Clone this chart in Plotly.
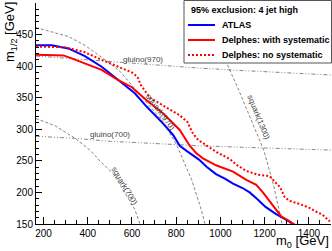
import plotly.graph_objects as go

# ---- data ----
atlas_m0 = [166, 237, 312, 387, 463, 538, 613, 666, 741, 786, 816, 850, 880, 903, 940, 980, 1020, 1057, 1100, 1132, 1165, 1204, 1250, 1282, 1310, 1335]
atlas_m12 = [433, 433, 428, 416, 399, 378, 357, 336, 309, 291, 274, 265, 258, 252, 240, 229, 222, 214, 207, 200, 190, 177, 166, 160, 154, 148]

sys_m0 = [166, 290, 330, 387, 463, 538, 598, 666, 741, 816, 861, 891, 921, 980, 1057, 1117, 1162, 1192, 1237, 1275, 1313, 1340]
sys_m12 = [418, 417, 412, 404, 394, 378, 367, 346, 325, 299, 274, 262, 254, 243, 233, 220, 212, 200, 180, 162, 154, 148]

nosys_m0 = [166, 290, 330, 387, 463, 538, 600, 625, 640, 681, 741, 816, 850, 876, 900, 936, 982, 1042, 1072, 1117, 1170, 1222, 1250, 1270, 1290, 1310, 1355, 1400, 1430, 1460, 1495]
nosys_m12 = [431, 430, 427, 422, 410, 399, 390, 383, 370, 350, 337, 322, 312, 293, 283, 275, 264, 253, 244, 234, 228, 226, 216, 208, 193, 187, 182, 176, 170, 165, 154]

gl970_m0 = [166, 350, 500, 700, 900, 1100, 1300, 1500]
gl970_m12 = [416, 411, 407, 402, 397, 393, 389, 386]

gl700_m0 = [166, 342, 500, 681, 900, 1100, 1300, 1500]
gl700_m12 = [289, 285.6, 281, 277.7, 274, 271.5, 269, 267]

sq970_m0 = [166, 207, 312, 387, 463, 545, 635, 700, 741, 801, 831, 870, 914, 933, 945]
sq970_m12 = [461, 457, 447, 433, 414, 392, 355, 330, 312, 276, 251, 220, 172, 148, 130]

sq700_m0 = [166, 250, 342, 410, 463, 515, 553, 575, 613, 635, 642]
sq700_m12 = [317, 306, 286, 267, 247, 230, 208, 195, 173, 151, 140]

sq1300_m0 = [990, 1028, 1078, 1128, 1177, 1196, 1240, 1277, 1285]
sq1300_m12 = [430, 405, 366, 324, 283, 267, 212, 151, 140]

legend_title = "95% exclusion: 4 jet high"
legend_names = ["ATLAS", "Delphes: with systematic", "Delphes: no systematic"]

# ---- figure ----
W, H = 332, 251
ML, MR, MT, MB = 36, 1, 3, 27
PW, PH = W - ML - MR, H - MT - MB

def PX(px):
    return (px - ML) / PW

def PY(py):
    return (MT + PH - py) / PH

FONT = "Liberation Sans, Arial, sans-serif"
GRAY = "#666666"

fig = go.Figure()

gray_lines = [
    (gl970_m0, gl970_m12, "dashdot"),
    (gl700_m0, gl700_m12, "dashdot"),
    (sq970_m0, sq970_m12, "dash"),
    (sq700_m0, sq700_m12, "dash"),
    (sq1300_m0, sq1300_m12, "dash"),
]
for xs, ys, dash in gray_lines:
    fig.add_trace(go.Scatter(x=xs, y=ys, mode="lines", showlegend=False, hoverinfo="skip",
                             line=dict(color=GRAY, width=0.8, dash="4px,2px,1px,2px,1px,2px" if dash == "dashdot" else "3px,2px")))

fig.add_trace(go.Scatter(x=atlas_m0, y=atlas_m12, mode="lines", showlegend=False,
                         line=dict(color="#0000ff", width=2)))
fig.add_trace(go.Scatter(x=sys_m0, y=sys_m12, mode="lines", showlegend=False,
                         line=dict(color="#ff0000", width=2)))
fig.add_trace(go.Scatter(x=nosys_m0, y=nosys_m12, mode="lines", showlegend=False,
                         line=dict(color="#ff0000", width=2, dash="2px,2px")))

# gray curve labels
lab_font = dict(family=FONT, size=8, color="#444444")
for txt, x, y, ang in [("gluino(970)", 651, 411, 0), ("gluino(700)", 500, 291, 0),
                       ("squark(700)", 568, 210, 59), ("squark(970)", 730, 327, 53),
                       ("squark(1300)", 1173, 319, 68)]:
    fig.add_annotation(x=x, y=y, xref="x", yref="y", text=txt, showarrow=False,
                       textangle=ang, font=lab_font)

# legend box (manual)
fig.add_shape(type="rect", xref="paper", yref="paper", x0=PX(184), x1=PX(331.5), y0=PY(63), y1=PY(0.5),
              fillcolor="white", line=dict(color="#555555", width=1), layer="above")
fig.add_annotation(xref="paper", yref="paper", x=PX(189), y=PY(10), text="<b>%s</b>" % legend_title,
                   showarrow=False, xanchor="left", yanchor="middle",
                   font=dict(family=FONT, size=9, color="black"))
leg_styles = [dict(color="#0000ff", width=2), dict(color="#ff0000", width=2),
              dict(color="#ff0000", width=2, dash="2px,2px")]
for i, (name, st) in enumerate(zip(legend_names, leg_styles)):
    yy = 25 + i * 15
    fig.add_shape(type="line", xref="paper", yref="paper", x0=PX(188), x1=PX(215), y0=PY(yy), y1=PY(yy),
                  line=st, layer="above")
    fig.add_annotation(xref="paper", yref="paper", x=PX(220), y=PY(yy), text="<b>%s</b>" % name,
                       showarrow=False, xanchor="left", yanchor="middle",
                       font=dict(family=FONT, size=9, color="black"))

# axis titles
fig.add_annotation(xref="paper", yref="paper", x=PX(331), y=PY(242), text="m<sub>0</sub> [GeV]",
                   showarrow=False, xanchor="right", yanchor="middle",
                   font=dict(family=FONT, size=13, color="black"))
fig.add_annotation(xref="paper", yref="paper", x=PX(10), y=PY(0), text="m<sub>1/2</sub> [GeV]",
                   showarrow=False, xanchor="center", yanchor="top", textangle=-90,
                   font=dict(family=FONT, size=13, color="black"))

fig.update_xaxes(range=[166, 1500], showline=True, linecolor="black", linewidth=1,
                 ticks="inside", ticklen=7, tickwidth=1, tickcolor="black", tick0=0, dtick=200,
                 minor=dict(ticks="inside", dtick=50, ticklen=4, tickcolor="black", tickwidth=1),
                 showgrid=False, zeroline=False, tickfont=dict(family=FONT, size=10, color="black"))
fig.update_yaxes(range=[150, 500], showline=True, linecolor="black", linewidth=1,
                 ticks="inside", ticklen=6, tickwidth=1, tickcolor="black", tick0=0, dtick=50,
                 minor=dict(ticks="inside", dtick=10, ticklen=3, tickcolor="black", tickwidth=1),
                 showgrid=False, zeroline=False, tickfont=dict(family=FONT, size=10, color="black"))

fig.update_layout(width=W, height=H, margin=dict(l=ML, r=MR, t=MT, b=MB),
                  paper_bgcolor="white", plot_bgcolor="white", showlegend=False, hovermode=False)

fig.write_html("out.html", config={"displayModeBar": False},
               post_script="document.body.style.margin='0px';document.body.style.padding='0px';")
